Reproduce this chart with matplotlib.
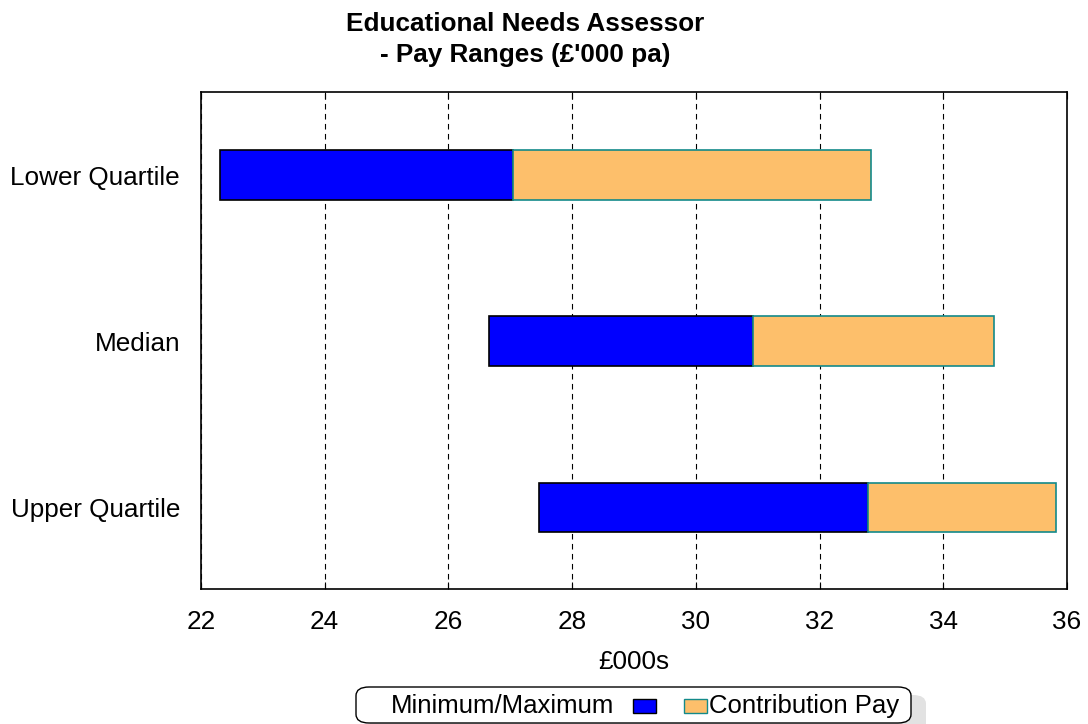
import matplotlib.pyplot as plt
from matplotlib.patches import FancyBboxPatch, Rectangle

plt.rcParams['font.family'] = ['Liberation Sans', 'DejaVu Sans']

categories = ['Lower Quartile', 'Median', 'Upper Quartile']
minimum = [22.3, 26.65, 27.47]
midpoint = [27.05, 30.92, 32.79]
maximum = [32.83, 34.82, 35.82]
xticks = [22, 24, 26, 28, 30, 32, 34, 36]

fig = plt.figure(figsize=(10.88, 7.24), dpi=100)
ax = fig.add_axes([0.1847, 0.1865, 0.7960, 0.6864])

pos = range(len(categories))
base_w = [m - lo for lo, m in zip(minimum, midpoint)]
contrib_w = [hi - m for m, hi in zip(midpoint, maximum)]
ax.barh(pos, base_w, left=minimum, height=0.3, color='#0000FF',
        edgecolor='black', linewidth=1.2, zorder=3)
ax.barh(pos, contrib_w, left=midpoint, height=0.3, color='#FDBF6B',
        edgecolor='#138A8A', linewidth=1.2, zorder=3)

ax.set_xlim(22, 36)
ax.set_ylim(2.49, -0.5)
ax.set_xticks(xticks)
ax.set_yticks(list(pos))
ax.set_yticklabels(categories, fontsize=18.8)
ax.tick_params(axis='x', labelsize=18.8, direction='in', top=True, length=5, pad=15)
ax.tick_params(axis='y', length=0, pad=15)
ax.grid(axis='x', color='black', linestyle=(0, (5, 4)), linewidth=0.8, zorder=1)
for s in ax.spines.values():
    s.set_linewidth(1.2)
ax.set_xlabel('£000s', fontsize=18.8, labelpad=12)

fig.text(525 / 1088, 1 - 39.5 / 724, 'Educational Needs Assessor\n- Pay Ranges (£\'000 pa)',
         ha='center', va='center', fontsize=18.8, fontweight='bold', linespacing=1.32)

# legend box with shadow
W, H = 1088, 724
def fx(x): return x / W
def fy(y): return 1 - y / H
shadow = FancyBboxPatch((fx(370), fy(735)), fx(556), 40 / H,
                        boxstyle='round,pad=0,rounding_size=0.012',
                        transform=fig.transFigure, facecolor='#E2E2E2',
                        edgecolor='none', zorder=1)
box = FancyBboxPatch((fx(356), fy(723)), fx(555), 36 / H,
                     boxstyle='round,pad=0,rounding_size=0.012',
                     transform=fig.transFigure, facecolor='white',
                     edgecolor='black', linewidth=1.0, zorder=2)
fig.patches.extend([shadow, box])
fig.text(fx(391), fy(706), 'Minimum/Maximum', fontsize=18.5, va='center', ha='left', zorder=3)
fig.patches.append(Rectangle((fx(633), fy(713)), fx(23), 14 / H, transform=fig.transFigure,
                             facecolor='#0000FF', edgecolor='black', linewidth=1, zorder=3))
fig.patches.append(Rectangle((fx(684), fy(713)), fx(23), 14 / H, transform=fig.transFigure,
                             facecolor='#FDBF6B', edgecolor='#138A8A', linewidth=1, zorder=3))
fig.text(fx(709), fy(706), 'Contribution Pay', fontsize=18.5, va='center', ha='left', zorder=3)

fig.savefig('out.png', dpi=100)
